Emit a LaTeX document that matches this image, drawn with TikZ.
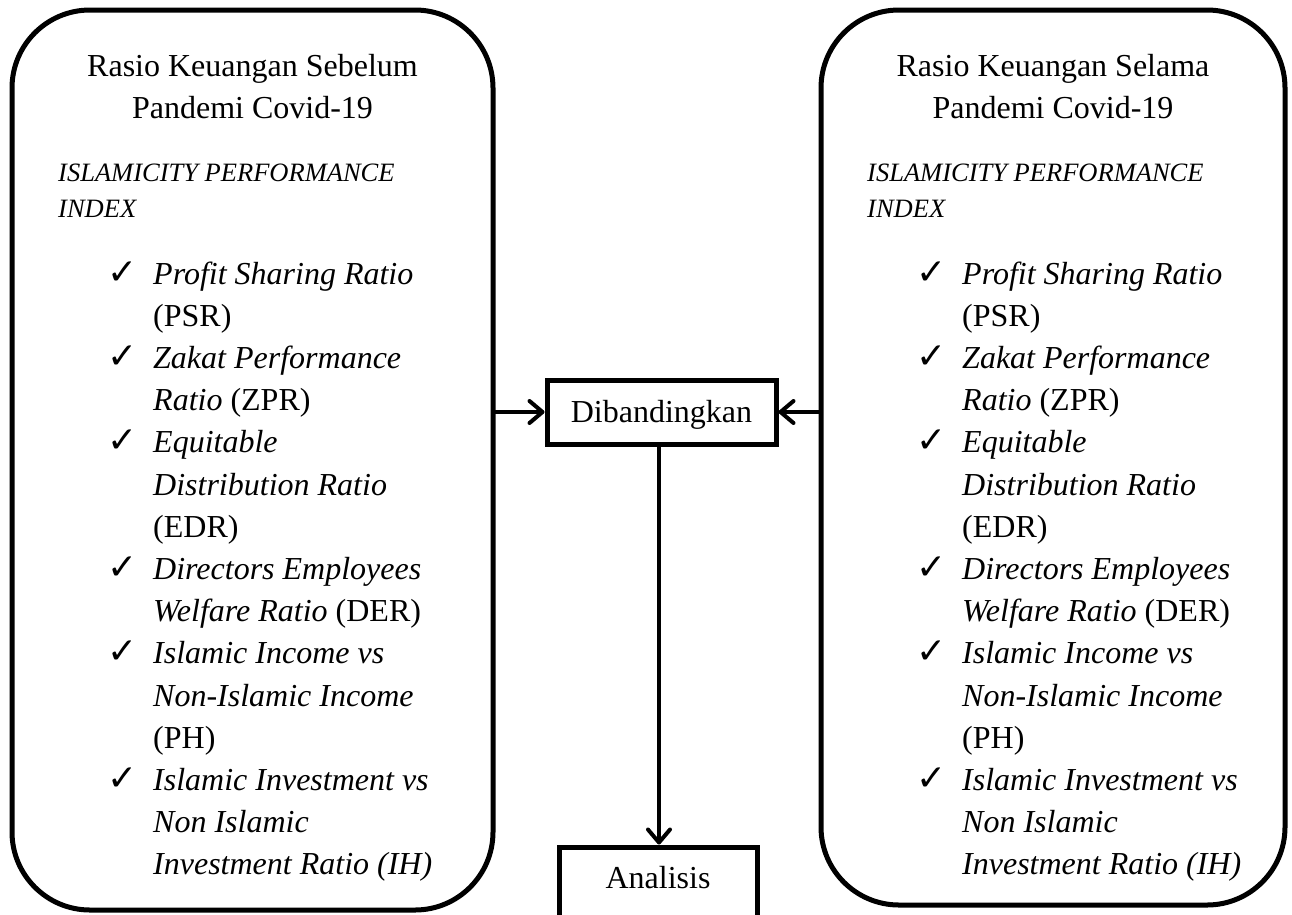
\documentclass[tikz,border=0pt]{standalone}
\usepackage{fontspec}
\setmainfont{Liberation Serif}
\newfontfamily\dejavu{DejaVu Sans}
\usetikzlibrary{arrows.meta}
\newcommand\panelcontent[4]{%
  \node[titletxt] (#1title1) at (#3,76) {Rasio Keuangan #4};
  \node[titletxt] (#1title2) at (#3,118) {Pandemi Covid-19};
  \node[headtxt] (#1head1) at ({#2+46},181) {ISLAMICITY PERFORMANCE};
  \node[headtxt] (#1head2) at ({#2+46},217) {INDEX};
  \foreach \txt [count=\i from 0] in {%
    {\textit{Profit Sharing Ratio}},{(PSR)},{\textit{Zakat Performance}},%
    {\textit{Ratio} (ZPR)},{\textit{Equitable}},{\textit{Distribution Ratio}},%
    {(EDR)},{\textit{Directors Employees}},{\textit{Welfare Ratio} (DER)},%
    {\textit{Islamic Income vs}},{\textit{Non-Islamic Income}},{(PH)},%
    {\textit{Islamic Investment vs}},{\textit{Non Islamic}},%
    {\textit{Investment Ratio (IH)}}}{%
    \node[itemtxt] (#1item\i) at ({#2+141},{284+42.2*\i}) {\txt};
  }
  \foreach \j/\k in {0/1,2/2,4/3,7/4,9/5,12/6}{%
    \node[checkmk] (#1check\k) at ({#2+95},{284+42.2*\j}) {✓};
  }
}
\begin{document}
\begin{tikzpicture}[x=1pt,y=-1pt,
  roundbox/.style={draw, line width=5pt, rounded corners=78pt, inner sep=0pt},
  plainbox/.style={draw, line width=5pt, inner xsep=0pt, inner ysep=0pt,
    font=\fontsize{32}{38}\selectfont, anchor=base},
  titletxt/.style={font=\fontsize{32}{38}\selectfont, anchor=base, inner sep=0pt},
  headtxt/.style={font=\fontsize{26.5}{32}\selectfont\itshape, anchor=base west, inner sep=0pt},
  itemtxt/.style={font=\fontsize{32}{38}\selectfont, anchor=base west, inner sep=0pt},
  checkmk/.style={font=\dejavu\fontsize{36}{40}\selectfont, anchor=base west, inner sep=0pt},
  arr/.style={line width=4pt, line cap=round,
    -{Straight Barb[length=13pt,width=22pt,line cap=round,line join=round]}}]
\useasboundingbox (0,0) rectangle (1292,914);
\clip (0,0) rectangle (1292,914);
% panels
\node[roundbox, minimum width=481pt, minimum height=900pt] (lbox) at (252.5,460) {};
\node[roundbox, minimum width=464pt, minimum height=895pt] (rbox) at (1053,457.5) {};
\panelcontent{l}{12}{252.5}{Sebelum}
\panelcontent{r}{821}{1053}{Selama}
% middle boxes
\node[plainbox, minimum width=229pt, text height=42pt, text depth=22pt] (dib) at (661.5,422) {Dibandingkan};
\node[plainbox, minimum width=198pt, text height=41pt, text depth=60pt] (ana) at (658,888) {Analisis};
% connectors
\draw[arr] (lbox.east |- dib.west) -- (dib.west);
\draw[arr] (rbox.west |- dib.east) -- (dib.east);
\draw[arr] (dib.south -| 659,0) -- (ana.north -| 659,0);
\end{tikzpicture}
\end{document}
